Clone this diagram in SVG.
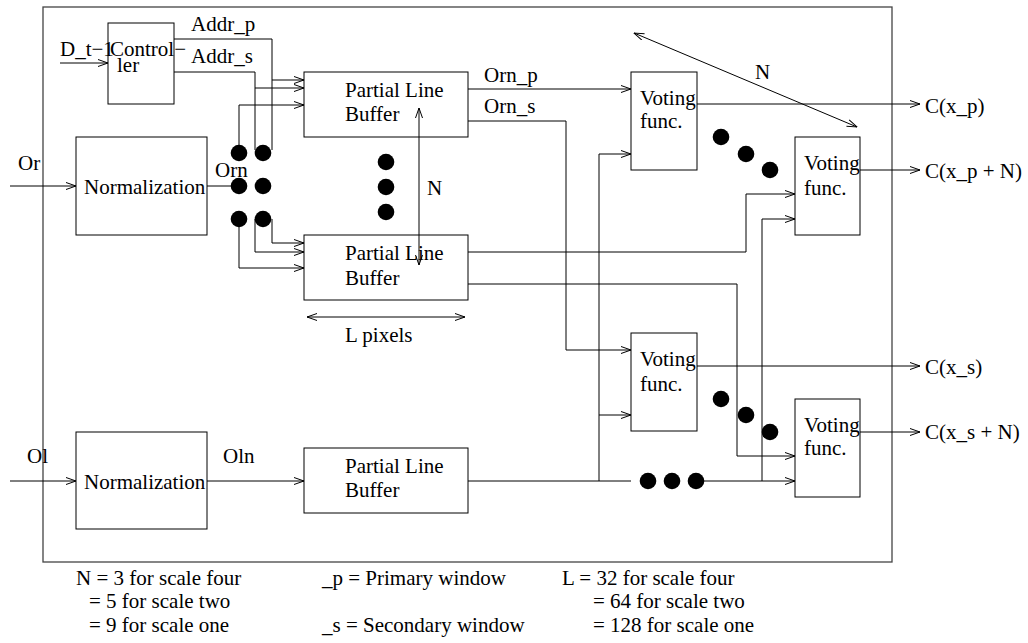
<svg xmlns="http://www.w3.org/2000/svg" width="1028" height="643" viewBox="0 0 1028 643">
<style>
text{font-family:"Liberation Serif","Times New Roman",serif;font-size:21px;fill:#000}
.box{fill:none;stroke:#000;stroke-width:1}
.c{fill:none;stroke:#000;stroke-width:1}
.a{marker-end:url(#ah)}
.d{marker-start:url(#ah);marker-end:url(#ah)}
.dot{fill:#000}
</style>
<defs>
<marker id="ah" viewBox="0 0 11 8" refX="10.5" refY="4" markerWidth="11" markerHeight="8" markerUnits="userSpaceOnUse" orient="auto-start-reverse">
<path d="M0.5,0.5 L10.5,4 L0.5,7.5" fill="none" stroke="#000" stroke-width="1"/>
</marker>
</defs>
<rect x="43" y="7" width="849" height="555" fill="none" stroke="#444" stroke-width="1.3"/>

<g id="connectors">
<line class="c a" x1="60" y1="63" x2="108" y2="63"/>
<polyline class="c" points="174,39 272,39 272,150"/>
<polyline class="c" points="174,72 255,72 255,150"/>
<line class="c a" x1="272" y1="80" x2="304" y2="80"/>
<line class="c a" x1="255" y1="88" x2="304" y2="88"/>
<polyline class="c a" points="239,150 239,105 304,105"/>
<line class="c a" x1="10" y1="186" x2="76" y2="186"/>
<line class="c" x1="207" y1="186" x2="239" y2="186"/>
<polyline class="c a" points="272,219 272,243 304,243"/>
<polyline class="c a" points="255,219 255,252 304,252"/>
<polyline class="c a" points="239,219 239,268 304,268"/>
<line class="c d" x1="419" y1="108" x2="419" y2="265"/>
<line class="c d" x1="307" y1="317" x2="465" y2="317"/>
<line class="c a" x1="468" y1="89" x2="631" y2="89"/>
<polyline class="c a" points="468,121 566,121 566,350 631,350"/>
<line class="c a" x1="697" y1="104" x2="920" y2="104"/>
<line class="c d" x1="634" y1="33" x2="857" y2="127"/>
<line class="c a" x1="860" y1="170" x2="920" y2="170"/>
<polyline class="c a" points="468,252 746,252 746,194 795,194"/>
<polyline class="c a" points="468,284 737,284 737,456 795,456"/>
<polyline class="c a" points="599,481 599,154 631,154"/>
<line class="c a" x1="599" y1="415" x2="631" y2="415"/>
<line class="c a" x1="10" y1="481" x2="76" y2="481"/>
<line class="c a" x1="207" y1="481" x2="304" y2="481"/>
<line class="c" x1="468" y1="481" x2="631" y2="481"/>
<line class="c a" x1="696" y1="481" x2="795" y2="481"/>
<polyline class="c a" points="762,481 762,219 795,219"/>
<line class="c a" x1="697" y1="366" x2="920" y2="366"/>
<line class="c a" x1="860" y1="432" x2="920" y2="432"/>
</g>

<g id="dots">
<circle class="dot" cx="239" cy="153" r="8.3"/>
<circle class="dot" cx="263" cy="153" r="8.3"/>
<circle class="dot" cx="239" cy="186" r="8.3"/>
<circle class="dot" cx="263" cy="186" r="8.3"/>
<circle class="dot" cx="239" cy="219" r="8.3"/>
<circle class="dot" cx="263" cy="219" r="8.3"/>
<circle class="dot" cx="386" cy="162" r="8.3"/>
<circle class="dot" cx="386" cy="187" r="8.3"/>
<circle class="dot" cx="386" cy="212" r="8.3"/>
<circle class="dot" cx="721" cy="137" r="8.3"/>
<circle class="dot" cx="746" cy="154" r="8.3"/>
<circle class="dot" cx="770" cy="170" r="8.3"/>
<circle class="dot" cx="721" cy="399" r="8.3"/>
<circle class="dot" cx="746" cy="415" r="8.3"/>
<circle class="dot" cx="770" cy="432" r="8.3"/>
<circle class="dot" cx="648" cy="481" r="8.3"/>
<circle class="dot" cx="672" cy="481" r="8.3"/>
<circle class="dot" cx="696" cy="481" r="8.3"/>
</g>

<g id="controller">
<rect class="box" x="108" y="23" width="66" height="81"/>
<text x="110" y="56">Control−</text>
<text x="117" y="72">ler</text>
</g>
<g id="norm-r">
<rect class="box" x="76" y="137" width="131" height="98"/>
<text x="84" y="194">Normalization</text>
</g>
<g id="norm-l">
<rect class="box" x="76" y="432" width="131" height="97"/>
<text x="84" y="489">Normalization</text>
</g>
<g id="plb1">
<rect class="box" x="304" y="72" width="164" height="65"/>
<text x="345" y="97">Partial Line</text>
<text x="345" y="121">Buffer</text>
</g>
<g id="plb2">
<rect class="box" x="304" y="235" width="164" height="65"/>
<text x="345" y="260">Partial Line</text>
<text x="345" y="285">Buffer</text>
</g>
<g id="plb3">
<rect class="box" x="304" y="448" width="164" height="65"/>
<text x="345" y="473">Partial Line</text>
<text x="345" y="497">Buffer</text>
</g>
<g id="vote1">
<rect class="box" x="631" y="72" width="66" height="98"/>
<text x="640" y="105">Voting</text>
<text x="640" y="128">func.</text>
</g>
<g id="vote2">
<rect class="box" x="795" y="137" width="65" height="98"/>
<text x="804" y="170">Voting</text>
<text x="804" y="195">func.</text>
</g>
<g id="vote3">
<rect class="box" x="631" y="333" width="66" height="98"/>
<text x="640" y="366">Voting</text>
<text x="640" y="391">func.</text>
</g>
<g id="vote4">
<rect class="box" x="795" y="399" width="65" height="98"/>
<text x="804" y="432">Voting</text>
<text x="804" y="455">func.</text>
</g>

<g id="labels">
<text x="60" y="56">D_t−1</text>
<text x="191" y="31">Addr_p</text>
<text x="191" y="63">Addr_s</text>
<text x="18" y="170">Or</text>
<text x="215" y="177">Orn</text>
<text x="427" y="195">N</text>
<text x="345" y="342">L pixels</text>
<text x="484" y="82">Orn_p</text>
<text x="484" y="113">Orn_s</text>
<text x="755" y="79">N</text>
<text x="925" y="113">C(x_p)</text>
<text x="925" y="178">C(x_p + N)</text>
<text x="925" y="374">C(x_s)</text>
<text x="925" y="439">C(x_s + N)</text>
<text x="27" y="463">Ol</text>
<text x="223" y="463">Oln</text>
</g>

<g id="legend">
<text x="76" y="585">N = 3 for scale four</text>
<text x="89" y="608">= 5 for scale two</text>
<text x="89" y="632">= 9 for scale one</text>
<text x="322" y="585">_p = Primary window</text>
<text x="322" y="632">_s = Secondary window</text>
<text x="562" y="585">L = 32 for scale four</text>
<text x="593" y="608">= 64 for scale two</text>
<text x="593" y="632">= 128 for scale one</text>
</g>
</svg>
